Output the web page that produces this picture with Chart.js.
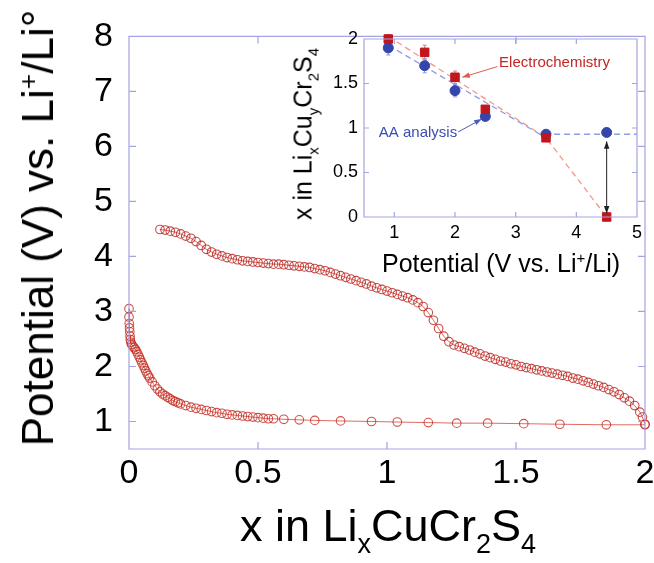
<!DOCTYPE html>
<html>
<head>
<meta charset="utf-8">
<script src="https://cdn.jsdelivr.net/npm/chart.js"></script>
<style>
  body { margin: 0; background: #fff; }
  #wrap { position: relative; width: 654px; height: 563px; background: #fff; overflow: hidden; }
  canvas { position: absolute; }
  #main { left: 0; top: 0; }
  #inset { left: 260px; top: 10px; }
  .title { position: absolute; white-space: nowrap; line-height: 1; color: #000;
           font-family: 'Liberation Sans', Arial, Helvetica, sans-serif;
           transform: translate(-50%, -50%); }
  .rot { transform: translate(-50%, -50%) rotate(-90deg); }
  .sub { font-size: 0.6em; position: relative; top: 0.45em; }
  .sup { font-size: 0.6em; position: relative; top: -0.6em; }
</style>
</head>
<body>
<div id="wrap">
  <canvas id="main" width="654" height="563"></canvas>
  <canvas id="inset" width="394" height="290"></canvas>
  <div class="title rot" style="left:38px; top:228px; font-size:44px;">Potential (V) vs. Li<span class="sup">+</span>/Li°</div>
  <div class="title" style="left:388px; top:525px; font-size:45px;">x in Li<span class="sub">x</span>CuCr<span class="sub">2</span>S<span class="sub">4</span></div>
  <div class="title rot" style="left:303px; top:134px; font-size:25px;">x in Li<span class="sub">x</span>Cu<span class="sub">y</span>Cr<span class="sub">2</span>S<span class="sub">4</span></div>
  <div class="title" style="left:501px; top:263px; font-size:25px;">Potential (V vs. Li<span class="sup">+</span>/Li)</div>
</div>
<script>
const FONT = "'Liberation Sans', Arial, Helvetica, sans-serif";
const AXIS_COLOR = '#a3a3e2';

// main plot: charge curve (upper) and discharge curve (lower)
const chargeX = [0.12,0.14,0.16,0.18,0.20,0.22,0.24,0.26,0.28,0.30,
  0.32,0.34,0.36,0.38,0.40,0.42,0.44,0.46,0.48,0.50,
  0.52,0.54,0.56,0.58,0.60,0.62,0.64,0.66,0.68,0.70,
  0.72,0.74,0.76,0.78,0.80,0.82,0.84,0.86,0.88,0.90,
  0.92,0.94,0.96,0.98,1.00,1.02,1.04,1.06,1.08,1.10,
  1.12,1.14,1.16,1.18,1.20,1.22,1.24,1.26,1.28,1.30,
  1.32,1.34,1.36,1.38,1.40,1.42,1.44,1.46,1.48,1.50,
  1.52,1.54,1.56,1.58,1.60,1.62,1.64,1.66,1.68,1.70,
  1.72,1.74,1.76,1.78,1.80,1.82,1.84,1.86,1.88,1.90,
  1.92,1.94,1.96,1.98,1.99,2.00];
const chargeY = [4.49,4.48,4.46,4.44,4.41,4.37,4.33,4.27,4.20,4.13,
  4.08,4.04,4.01,3.98,3.96,3.94,3.92,3.91,3.90,3.89,
  3.88,3.87,3.86,3.86,3.85,3.84,3.83,3.82,3.81,3.80,
  3.78,3.76,3.74,3.71,3.68,3.65,3.62,3.59,3.56,3.53,
  3.50,3.46,3.43,3.40,3.37,3.34,3.31,3.28,3.25,3.21,
  3.16,3.09,2.98,2.84,2.69,2.55,2.45,2.39,2.36,2.33,
  2.30,2.26,2.23,2.19,2.16,2.13,2.10,2.08,2.05,2.03,
  2.00,1.98,1.96,1.94,1.92,1.90,1.88,1.86,1.84,1.82,
  1.79,1.77,1.74,1.71,1.68,1.65,1.62,1.58,1.54,1.49,
  1.43,1.37,1.29,1.17,1.08,0.95];
const dischargeX = [0,0,0.001,0.002,0.003,0.004,0.005,0.007,0.01,0.015,
  0.02,0.025,0.03,0.035,0.04,0.045,0.05,0.055,0.06,0.065,
  0.07,0.075,0.08,0.09,0.10,0.11,0.12,0.13,0.14,0.15,
  0.16,0.17,0.18,0.19,0.20,0.22,0.24,0.26,0.28,0.30,
  0.32,0.34,0.36,0.38,0.40,0.42,0.44,0.46,0.48,0.50,
  0.52,0.54,0.56,0.60,0.66,0.72,0.82,0.94,1.04,1.16,
  1.27,1.39,1.53,1.67,1.85,2.00];
const dischargeY = [3.05,2.90,2.78,2.70,2.63,2.55,2.49,2.44,2.40,2.37,
  2.34,2.31,2.27,2.22,2.17,2.12,2.07,2.02,1.97,1.92,
  1.87,1.83,1.79,1.72,1.65,1.59,1.54,1.50,1.47,1.44,
  1.41,1.38,1.36,1.34,1.32,1.29,1.26,1.24,1.22,1.20,
  1.18,1.16,1.15,1.13,1.12,1.11,1.10,1.09,1.08,1.07,
  1.06,1.05,1.05,1.04,1.03,1.02,1.01,1.00,0.99,0.98,
  0.97,0.97,0.96,0.95,0.94,0.94];
const mainXTicks = [0, 0.5, 1, 1.5, 2];
const mainYTicks = [1, 2, 3, 4, 5, 6, 7, 8];

// inset: x in LixCuyCr2S4 vs potential
const potential = [0.9, 1.5, 2.0, 2.5, 3.5, 4.5];
const electroX = [2.00, 1.85, 1.57, 1.21, 0.89, 0.00];
const electroErr = [0.05, 0.08, 0.07, 0.04, 0.03, 0];
const aaX = [1.90, 1.70, 1.42, 1.13, 0.93, 0.95];
const aaErr = [0.08, 0.08, 0.07, 0.04, 0.03, 0.02];
const electroFitV = [0.9, 3.5, 4.5];
const electroFitX = [2.03, 0.89, 0.0];
const aaFitV = [0.9, 3.4, 5.0];
const aaFitX = [1.93, 0.93, 0.93];
const insetXTicks = [1, 2, 3, 4, 5];
const insetYTicks = [0, 0.5, 1, 1.5, 2];

const zip = (xs, ys) => xs.map((x, i) => ({x: x, y: ys[i]}));

// box frame + inward ticks on all four sides
const frameTicks = {
  id: 'frameTicks',
  afterDraw(chart, args, opts) {
    const {ctx, chartArea: a, scales} = chart;
    const L = opts.len;
    ctx.save();
    ctx.strokeStyle = AXIS_COLOR;
    ctx.lineWidth = 1.2;
    ctx.beginPath();
    ctx.rect(a.left, a.top, a.right - a.left, a.bottom - a.top);
    scales.x.ticks.forEach(t => {
      const px = scales.x.getPixelForValue(t.value);
      ctx.moveTo(px, a.bottom); ctx.lineTo(px, a.bottom - L);
      ctx.moveTo(px, a.top); ctx.lineTo(px, a.top + L);
    });
    scales.y.ticks.forEach(t => {
      const py = scales.y.getPixelForValue(t.value);
      ctx.moveTo(a.left, py); ctx.lineTo(a.left + L, py);
      ctx.moveTo(a.right, py); ctx.lineTo(a.right - L, py);
    });
    ctx.stroke();
    ctx.restore();
  }
};

function axis(min, max, ticks, size, pad, fit) {
  return {
    type: 'linear', min: min, max: max,
    afterBuildTicks: s => { s.ticks = ticks.map(v => ({value: v})); },
    afterFit: fit,
    grid: {display: false, drawTicks: false},
    border: {display: false},
    ticks: {font: {family: FONT, size: size}, color: '#000', padding: pad,
            maxRotation: 0, autoSkip: false, callback: v => String(v)}
  };
}

new Chart(document.getElementById('main'), {
  type: 'scatter',
  data: {
    datasets: [
      {data: zip(chargeX, chargeY), showLine: true, borderColor: 'rgba(210,60,50,0.8)', borderWidth: 1,
       pointRadius: 4.3, pointBorderWidth: 1.1, pointBorderColor: 'rgba(185,30,25,0.8)', pointBackgroundColor: 'rgba(0,0,0,0)', clip: false},
      {data: zip(dischargeX, dischargeY), showLine: true, borderColor: 'rgba(215,70,60,0.8)', borderWidth: 1,
       pointRadius: 4.3, pointBorderWidth: 1.1, pointBorderColor: 'rgba(195,40,30,0.8)', pointBackgroundColor: 'rgba(0,0,0,0)', clip: false}
    ]
  },
  options: {
    responsive: false, animation: false,
    layout: {padding: {top: 32, right: 9, left: 0, bottom: 0}},
    plugins: {legend: {display: false}, tooltip: {enabled: false}, frameTicks: {len: 7}},
    scales: {
      x: axis(0, 2, mainXTicks, 34, 4, s => { s.height = 114; s.paddingLeft = 0; s.paddingRight = 0; }),
      y: axis(0.5, 8, mainYTicks, 34, 16, s => { s.width = 129; })
    }
  },
  plugins: [frameTicks]
});

function arrow(ctx, x1, y1, x2, y2, color, both) {
  const head = (fx, fy, tx, ty) => {
    const ang = Math.atan2(ty - fy, tx - fx);
    ctx.beginPath();
    ctx.moveTo(tx, ty);
    ctx.lineTo(tx - 8 * Math.cos(ang - 0.35), ty - 8 * Math.sin(ang - 0.35));
    ctx.lineTo(tx - 8 * Math.cos(ang + 0.35), ty - 8 * Math.sin(ang + 0.35));
    ctx.closePath();
    ctx.fill();
  };
  ctx.strokeStyle = color; ctx.fillStyle = color; ctx.lineWidth = 1;
  ctx.beginPath(); ctx.moveTo(x1, y1); ctx.lineTo(x2, y2); ctx.stroke();
  head(x1, y1, x2, y2);
  if (both) head(x2, y2, x1, y1);
}

// error bars under the markers, labels and arrows on top
const insetExtras = {
  id: 'insetExtras',
  beforeDatasetsDraw(chart) {
    const {ctx, scales: {x, y}} = chart;
    ctx.save();
    ctx.lineWidth = 1;
    [[electroX, electroErr, '#e07a7a'], [aaX, aaErr, '#8c98d8']].forEach(([vals, errs, col]) => {
      ctx.strokeStyle = col;
      vals.forEach((v, i) => {
        if (!errs[i]) return;
        const px = x.getPixelForValue(potential[i]);
        const y1 = y.getPixelForValue(v - errs[i]), y2 = y.getPixelForValue(v + errs[i]);
        ctx.beginPath();
        ctx.moveTo(px, y1); ctx.lineTo(px, y2);
        ctx.moveTo(px - 2, y1); ctx.lineTo(px + 2, y1);
        ctx.moveTo(px - 2, y2); ctx.lineTo(px + 2, y2);
        ctx.stroke();
      });
    });
    ctx.restore();
  },
  afterDraw(chart) {
    const {ctx, scales: {x, y}} = chart;
    const X = v => x.getPixelForValue(v), Y = v => y.getPixelForValue(v);
    ctx.save();
    ctx.font = '15px ' + FONT;
    ctx.textBaseline = 'middle';
    ctx.textAlign = 'center';
    ctx.fillStyle = '#c62424';
    ctx.fillText('Electrochemistry', X(3.64), Y(1.73));
    arrow(ctx, X(2.70), Y(1.69), X(2.12), Y(1.57), '#e05a4e', false);
    ctx.fillStyle = '#3a4db4';
    ctx.fillText('AA analysis', X(1.39), Y(0.94));
    arrow(ctx, X(2.05), Y(0.955), X(2.44), Y(1.10), '#4a5cc0', false);
    arrow(ctx, X(4.5), Y(0.85), X(4.5), Y(0.04), '#222', true);
    ctx.restore();
  }
};

new Chart(document.getElementById('inset'), {
  type: 'scatter',
  data: {
    datasets: [
      {data: zip(potential, electroX), pointStyle: 'rect', pointRadius: 6, pointBackgroundColor: '#c0161c',
       pointBorderColor: '#c0161c', showLine: false, clip: false, order: 1},
      {data: zip(potential, aaX), pointStyle: 'circle', pointRadius: 5, pointBackgroundColor: '#3446ac',
       pointBorderColor: '#3446ac', showLine: false, clip: false, order: 1},
      {data: zip(electroFitV, electroFitX), showLine: true, pointRadius: 0, borderColor: '#f09a8c',
       borderWidth: 1.3, borderDash: [6, 4], order: 2},
      {data: zip(aaFitV, aaFitX), showLine: true, pointRadius: 0, borderColor: '#8d9de4',
       borderWidth: 1.3, borderDash: [6, 4], order: 2}
    ]
  },
  options: {
    responsive: false, animation: false,
    layout: {padding: {top: 29, right: 17, left: 0, bottom: 0}},
    plugins: {legend: {display: false}, tooltip: {enabled: false}, frameTicks: {len: 5}},
    scales: {
      x: axis(0.5, 5, insetXTicks, 18, 5, s => { s.height = 83; s.paddingLeft = 0; s.paddingRight = 0; }),
      y: axis(0, 2, insetYTicks, 18, 6, s => { s.width = 104; })
    }
  },
  plugins: [frameTicks, insetExtras]
});
</script>
</body>
</html>
